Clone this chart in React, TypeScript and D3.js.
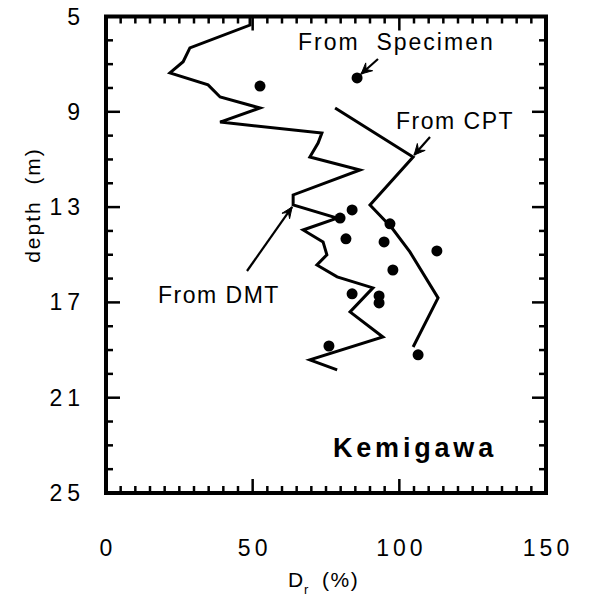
import React from "react";
import * as d3 from "d3";

// Relative density profiles at Kemigawa
const dmtDr = [49.1, 49.1, 28.6, 26.3, 21.8, 34.8, 38.9, 52.5, 38.9, 73.6, 72.3, 69.5, 86.6, 63.8, 63.8, 78.8, 67.2, 74.0, 75.3, 71.9, 78.8, 91.0, 83.2, 94.4, 69.5, 78.8];
const dmtDepth = [5.0, 5.36, 6.32, 6.9, 7.37, 7.87, 8.38, 8.84, 9.43, 9.89, 10.31, 10.9, 11.44, 12.49, 12.91, 13.46, 13.96, 14.46, 15.0, 15.43, 15.93, 16.39, 17.4, 18.45, 19.41, 19.83];

const cptDr = [78.1, 104.7, 90.0, 97.5, 103.6, 113.2, 104.7];
const cptDepth = [8.84, 10.9, 12.91, 13.88, 14.88, 16.81, 18.87];

const specimenDr = [52.5, 85.6, 83.9, 79.8, 96.8, 81.8, 94.8, 112.8, 97.8, 83.9, 93.1, 93.1, 76.0, 106.4];
const specimenDepth = [7.92, 7.58, 13.12, 13.46, 13.7, 14.33, 14.46, 14.84, 15.64, 16.64, 16.73, 17.02, 18.83, 19.2];

const xTickLabels = [0, 50, 100, 150];
const yTickLabels = [5, 9, 13, 17, 21, 25];

const W = 589;
const H = 596;
const FONT = "'Liberation Sans', Arial, Helvetica, sans-serif";

export default function App() {
  const x = d3.scaleLinear().domain([0, 150]).range([106, 546]);
  const y = d3.scaleLinear().domain([5, 25]).range([16.5, 493]);

  const line = d3
    .line<[number, number]>()
    .x((d) => x(d[0]))
    .y((d) => y(d[1]));

  const dmt = dmtDr.map((v, i) => [v, dmtDepth[i]] as [number, number]);
  const cpt = cptDr.map((v, i) => [v, cptDepth[i]] as [number, number]);

  const xMinor = d3.range(0, 151, 5);
  const yMinor = d3.range(5, 25.01, 1);

  const [x0, x1] = x.range();
  const [y0, y1] = y.range();

  // arrow helper: shaft from (ax,ay) to the tip (bx,by) with a V head
  const arrow = (ax: number, ay: number, bx: number, by: number, len = 11, spread = 0.45, key = "") => {
    const ang = Math.atan2(by - ay, bx - ax);
    const p1 = [bx - len * Math.cos(ang - spread), by - len * Math.sin(ang - spread)];
    const p2 = [bx - len * Math.cos(ang + spread), by - len * Math.sin(ang + spread)];
    const back = [bx - len * 0.55 * Math.cos(ang), by - len * 0.55 * Math.sin(ang)];
    return (
      <g key={key}>
        <line x1={ax} y1={ay} x2={bx} y2={by} stroke="#000" strokeWidth={2.2} />
        <path d={`M${p1[0]},${p1[1]} L${bx},${by} L${p2[0]},${p2[1]} L${back[0]},${back[1]} Z`} fill="#000" stroke="#000" strokeWidth={1} />
      </g>
    );
  };

  return (
    <svg width={W} height={H} style={{ position: "absolute", left: 0, top: 0, background: "#fff" }} fontFamily={FONT}>
      {/* ticks on all four sides */}
      <g stroke="#000" strokeWidth={2.5}>
        {xMinor.map((v) => {
          const major = v % 50 === 0;
          const len = major ? 14 : 7;
          return (
            <g key={"xt" + v}>
              <line x1={x(v)} x2={x(v)} y1={y1} y2={y1 - len} />
              <line x1={x(v)} x2={x(v)} y1={y0} y2={y0 + len} />
            </g>
          );
        })}
        {yMinor.map((v) => {
          const major = (v - 5) % 4 === 0;
          const len = major ? 14 : 7;
          return (
            <g key={"yt" + v}>
              <line x1={x0} x2={x0 + len} y1={y(v)} y2={y(v)} />
              <line x1={x1} x2={x1 - len} y1={y(v)} y2={y(v)} />
            </g>
          );
        })}
      </g>
      <rect x={x0} y={y0} width={x1 - x0} height={y1 - y0} fill="none" stroke="#000" strokeWidth={4} />

      {/* tick labels */}
      {xTickLabels.map((v) => (
        <text key={"xl" + v} x={x(v) + 2} y={556} textAnchor="middle" fontSize={23} style={{ letterSpacing: "4px" }}>
          {v}
        </text>
      ))}
      {yTickLabels.map((v) => (
        <text key={"yl" + v} x={85} y={y(v) + 8} textAnchor="end" fontSize={23} style={{ letterSpacing: "5px" }}>
          {v}
        </text>
      ))}

      {/* axis titles */}
      <text transform="translate(40,205) rotate(-90)" textAnchor="middle" fontSize={21} style={{ letterSpacing: "2px", whiteSpace: "pre" }}>
        {"depth  (m)"}
      </text>
      <text x={288} y={587} fontSize={21}>
        D
      </text>
      <text x={304} y={594} fontSize={13}>
        r
      </text>
      <text x={322} y={587} fontSize={21} style={{ letterSpacing: "1.5px" }}>
        (%)
      </text>

      {/* profiles */}
      <path d={line(dmt) ?? ""} fill="none" stroke="#000" strokeWidth={3} strokeLinejoin="miter" />
      <path d={line(cpt) ?? ""} fill="none" stroke="#000" strokeWidth={3} strokeLinejoin="miter" />
      {specimenDr.map((v, i) => (
        <circle key={"s" + i} cx={x(v)} cy={y(specimenDepth[i])} r={5.5} fill="#000" />
      ))}

      {/* annotations */}
      <text x={298} y={50} fontSize={23} style={{ letterSpacing: "2px", whiteSpace: "pre" }}>
        {"From  Specimen"}
      </text>
      {arrow(378, 59, x(specimenDr[1]) + 4, y(specimenDepth[1]) - 4, 12, 0.45, "a1")}
      <text x={396} y={129} fontSize={23} style={{ letterSpacing: "1.5px" }}>
        From CPT
      </text>
      {arrow(430, 137, x(cptDr[1]) + 1, y(cptDepth[1]) - 2, 12, 0.45, "a2")}
      <text x={158} y={303} fontSize={23} style={{ letterSpacing: "1.5px" }}>
        From DMT
      </text>
      {arrow(247, 271, x(dmtDr[14]) - 1, y(dmtDepth[14]) + 2, 12, 0.4, "a3")}

      <text x={333} y={457} fontSize={27} fontWeight="bold" style={{ letterSpacing: "3.8px" }}>
        Kemigawa
      </text>
    </svg>
  );
}
